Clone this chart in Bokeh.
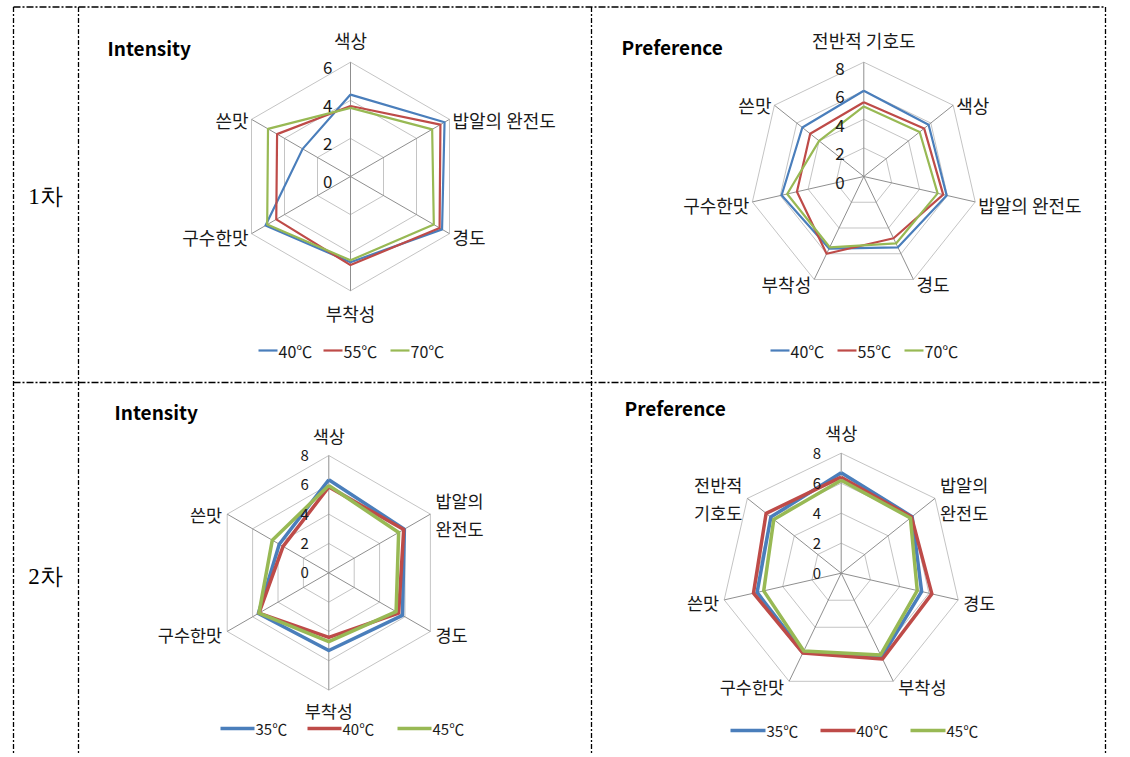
import math
from bokeh.plotting import figure
from bokeh.models import Range1d
from bokeh.core.properties import value
from bokeh.embed import file_html
from bokeh.resources import INLINE

# ---------------- data ----------------
row_labels = ["1차", "2차"]

r1_int_labels = ["색상", "밥알의 완전도", "경도", "부착성", "구수한맛", "쓴맛"]
r1_int_names = ["40℃", "55℃", "70℃"]
r1_int_40 = [4.3, 5.7, 5.55, 4.5, 5.15, 2.9]
r1_int_55 = [3.7, 5.45, 5.4, 4.65, 4.5, 4.45]
r1_int_70 = [3.6, 4.95, 5.05, 4.4, 5.05, 5.0]

r1_pref_labels = ["전반적 기호도", "색상", "밥알의 완전도", "경도", "부착성", "구수한맛", "쓴맛"]
r1_pref_names = ["40℃", "55℃", "70℃"]
r1_pref_40 = [6.0, 5.8, 5.95, 5.5, 5.6, 5.9, 5.5]
r1_pref_55 = [5.2, 5.4, 5.7, 4.8, 6.0, 4.8, 4.8]
r1_pref_70 = [4.9, 5.0, 5.3, 5.2, 5.5, 5.5, 4.0]

r2_int_labels = ["색상", "밥알의\n완전도", "경도", "부착성", "구수한맛", "쓴맛"]
r2_int_names = ["35℃", "40℃", "45℃"]
r2_int_35 = [6.35, 5.95, 5.8, 5.3, 5.55, 3.9]
r2_int_40 = [5.85, 5.9, 5.5, 4.4, 5.5, 3.6]
r2_int_45 = [5.95, 5.5, 5.3, 4.7, 5.5, 4.45]

r2_pref_labels = ["색상", "밥알의\n완전도", "경도", "부착성", "구수한맛", "쓴맛", "전반적\n기호도"]
r2_pref_names = ["35℃", "40℃", "45℃"]
r2_pref_35 = [6.7, 6.05, 5.5, 6.2, 5.85, 5.75, 6.0]
r2_pref_40 = [6.4, 6.0, 6.2, 6.35, 5.9, 6.0, 6.4]
r2_pref_45 = [6.2, 5.9, 5.2, 6.05, 5.75, 5.3, 5.75]

colors = ["#4A7EBB", "#BE4B48", "#98B954"]

# ---------------- figure ----------------
W, H = 1128, 755
p = figure(width=W, height=H, x_range=Range1d(0, W), y_range=Range1d(H, 0),
           output_backend="svg", toolbar_location=None, min_border=0,
           x_axis_location=None, y_axis_location=None)
p.grid.visible = False
p.outline_line_color = None
p.background_fill_color = "white"
p.border_fill_color = "white"

KR = value("Noto Sans CJK KR")

# table borders
p.multi_line(xs=[[13, 1105], [13, 1105]], ys=[[6.5, 6.5], [382, 382]],
             line_color="black", line_width=1.3, line_dash="7 2 2 2")
p.multi_line(xs=[[13, 13], [78, 78], [591, 591], [1105, 1105]],
             ys=[[6.5, 757]] * 4, line_color="black", line_width=1.3, line_dash="5 2 2 2")

p.text(x=[45, 45], y=[196, 576], text=row_labels, text_font=value("Liberation Serif"),
       text_font_size="23px", text_align="center", text_baseline="middle", text_color="black")


def radar(cx, cy, unit, vmax, step, labels, series, names, lw, tick_dx, tick_dy, tick_fs,
          lab_fs, title, tx, ty, leg_xs, leg_y, leg_len, leg_fs, vpad, hpad, lsp):
    n = len(labels)
    ang = [2 * math.pi * i / n for i in range(n)]

    def pt(v, a):
        return cx + v * unit * math.sin(a), cy - v * unit * math.cos(a)

    rx, ry = [], []
    for lv in range(step, vmax + 1, step):
        pts = [pt(lv, a) for a in ang] + [pt(lv, ang[0])]
        rx.append([q[0] for q in pts])
        ry.append([q[1] for q in pts])
    p.multi_line(rx, ry, line_color="#c4c4c4", line_width=1)
    sx = [[cx, pt(vmax, a)[0]] for a in ang]
    sy = [[cy, pt(vmax, a)[1]] for a in ang]
    p.multi_line(sx, sy, line_color="#8f8f8f", line_width=1)

    for vals, col in zip(series, colors):
        pts = [pt(v, a) for v, a in zip(vals, ang)]
        pts.append(pts[0])
        p.line([q[0] for q in pts], [q[1] for q in pts], line_color=col,
               line_width=lw, line_join="round")

    levels = list(range(0, vmax + 1, step))
    p.text(x=[cx + tick_dx] * len(levels), y=[cy - lv * unit + tick_dy for lv in levels],
           text=[str(lv) for lv in levels], text_font=KR, text_font_size=tick_fs,
           text_align="right", text_baseline="middle", text_color="#1a1a1a")

    for lab, a in zip(labels, ang):
        vx, vy = pt(vmax, a)
        s, c = math.sin(a), math.cos(a)
        lines = lab.split("\n")
        if abs(s) < 0.1:
            align = "center"
            x = vx
            y = vy - vpad if c > 0 else vy + vpad
        else:
            align = "left" if s > 0 else "right"
            x = vx + hpad if s > 0 else vx - hpad
            y = vy + 2 - 3 * c
        k = len(lines)
        ys = [y + (j - (k - 1) / 2) * lsp for j in range(k)]
        p.text(x=[x] * k, y=ys, text=lines, text_font=KR, text_font_size=lab_fs,
               text_align=align, text_baseline="middle", text_color="#1a1a1a")

    p.text(x=[tx], y=[ty], text=[title], text_font=KR, text_font_size="19px",
           text_font_style="bold", text_align="left", text_baseline="middle", text_color="black")

    for lx, nm, col in zip(leg_xs, names, colors):
        p.segment(x0=[lx], y0=[leg_y], x1=[lx + leg_len], y1=[leg_y], line_color=col, line_width=lw)
        p.text(x=[lx + leg_len + 1], y=[leg_y], text=[nm], text_font=KR, text_font_size=leg_fs,
               text_align="left", text_baseline="middle", text_color="#1a1a1a")


radar(350, 176, 114.3 / 6, 6, 2, r1_int_labels, [r1_int_40, r1_int_55, r1_int_70], r1_int_names,
      2.2, -18, 5, "17px", "18px", "Intensity", 107, 47, [258, 323, 390], 350, 19, "16px",
      22, 3, 28)
radar(863.3, 176, 114.3 / 8, 8, 2, r1_pref_labels, [r1_pref_40, r1_pref_55, r1_pref_70],
      r1_pref_names, 2.2, -19, 6, "17px", "18px", "Preference", 621, 46, [770, 837, 904], 350,
      19, "16px", 22, 3, 28)
radar(328.3, 572.3, 117.3 / 8, 8, 2, r2_int_labels, [r2_int_35, r2_int_40, r2_int_45],
      r2_int_names, 3.5, -20, 0, "15px", "17.5px", "Intensity", 114, 411, [220, 307, 397], 728,
      34, "15px", 20, 5, 28)
radar(840.7, 572.7, 120 / 8, 8, 2, r2_pref_labels, [r2_pref_35, r2_pref_40, r2_pref_45],
      r2_pref_names, 3.5, -20, 0, "15px", "17.5px", "Preference", 624, 407, [730, 820, 910], 730,
      35, "15px", 21, 5, 28)

open("out.html", "w").write(file_html(p, INLINE))
